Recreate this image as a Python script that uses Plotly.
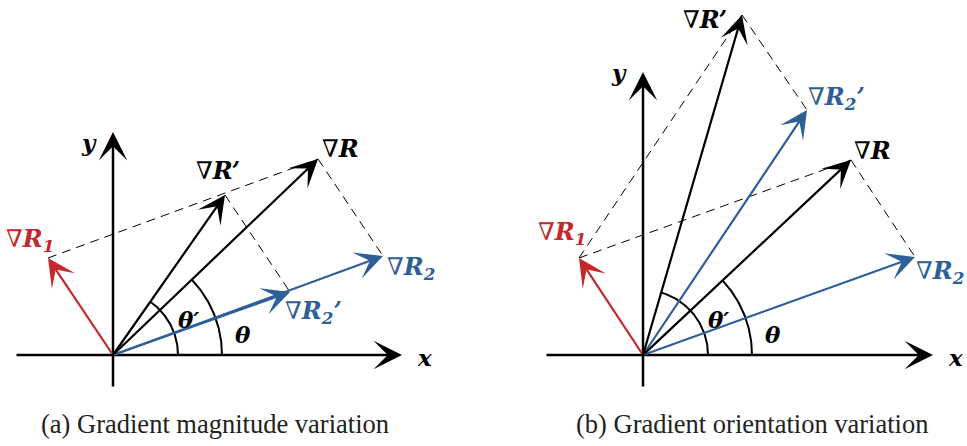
import numpy as np
import plotly.graph_objects as go

# ---------------- data (vector components, 1 unit = 100 px) ----------------
vec_names = ["R1", "R2", "R2p", "R", "Rp"]
vec_a_x = [-0.65, 2.70, 1.77, 2.05, 1.12]
vec_a_y = [0.97, 0.99, 0.63, 1.96, 1.60]
vec_b_x = [-0.64, 2.72, 1.64, 2.08, 0.99]
vec_b_y = [0.97, 0.98, 2.45, 1.95, 3.40]
NABLA = '<span style="font-family:DejaVu Serif;font-weight:normal">∇</span>'
vec_labels = [NABLA + "<b><i>R<sub>1</sub></i></b>", NABLA + "<b><i>R<sub>2</sub></i></b>",
              NABLA + "<b><i>R<sub>2</sub>’</i></b>", NABLA + "<b><i>R</i></b>", NABLA + "<b><i>R’</i></b>"]
captions = ["(a) Gradient magnitude variation", "(b) Gradient orientation variation"]

# dashed construction lines (pairs of vector tips)
dashed_a = [("R1", "R"), ("R", "R2"), ("Rp", "R2p")]
dashed_b = [("R1", "R"), ("R1", "Rp"), ("Rp", "R2p"), ("R", "R2")]

# axis extents
xaxis_ext = {"a": (-0.98, 2.89), "b": (-0.98, 2.90)}
yaxis_ext = {"a": (-0.33, 2.23), "b": (-0.33, 2.83)}

RED = "#c4282c"
BLUE = "#2e5f96"
BLACK = "#000000"
colors = {"R1": RED, "R2": BLUE, "R2p": BLUE, "R": BLACK, "Rp": BLACK}
# label offsets (px)
label_shift = {
    "a": {"R1": (-18, 18), "R2": (28, -12), "R2p": (23, -20), "R": (22, 11), "Rp": (-7, 25)},
    "b": {"R1": (-17, 25), "R2": (25, -15), "R2p": (29, 12), "R": (21, 10), "Rp": (-37, -4)},
}

SERIF = "Liberation Serif"
LSERIF = "DejaVu Serif"
fig = go.Figure()
annotations = []
LABEL_FONT = dict(family=LSERIF, size=23, color=BLACK)

for p, vx, vy, dashed, xref, yref in [
    ("a", vec_a_x, vec_a_y, dashed_a, "x", "y"),
    ("b", vec_b_x, vec_b_y, dashed_b, "x2", "y2"),
]:
    V = {n: (vx[i], vy[i]) for i, n in enumerate(vec_names)}
    # dashed lines
    for s, e in dashed:
        fig.add_trace(go.Scatter(x=[V[s][0], V[e][0]], y=[V[s][1], V[e][1]], mode="lines",
                                 line=dict(color=BLACK, width=1, dash="9px,6px"),
                                 xaxis=xref, yaxis=yref, showlegend=False, hoverinfo="skip"))
    # arcs
    for name, r in [("Rp", 0.65), ("R", 1.09)]:
        ang = np.arctan2(V[name][1], V[name][0])
        t = np.linspace(0, ang, 60)
        fig.add_trace(go.Scatter(x=r * np.cos(t), y=r * np.sin(t), mode="lines",
                                 line=dict(color=BLACK, width=2),
                                 xaxis=xref, yaxis=yref, showlegend=False, hoverinfo="skip"))
    # axes
    x0, x1 = xaxis_ext[p]
    y0, y1 = yaxis_ext[p]
    for (ax_, ay_, tx, ty) in [(x0, 0, x1, 0), (0, y0, 0, y1)]:
        annotations.append(dict(x=tx, y=ty, ax=ax_, ay=ay_, xref=xref, yref=yref,
                                axref=xref, ayref=yref, text="", showarrow=True,
                                arrowhead=3, arrowsize=1.9, arrowwidth=2.5, arrowcolor=BLACK,
                                standoff=0, startstandoff=0))
    # vectors
    for n in vec_names:
        annotations.append(dict(x=V[n][0], y=V[n][1], ax=0, ay=0, xref=xref, yref=yref,
                                axref=xref, ayref=yref, text="", showarrow=True,
                                arrowhead=3, arrowsize=2.1, arrowwidth=2.2, arrowcolor=colors[n],
                                standoff=0))
        dx, dy = label_shift[p][n]
        annotations.append(dict(x=V[n][0], y=V[n][1], xref=xref, yref=yref,
                                text=vec_labels[vec_names.index(n)],
                                showarrow=False, xshift=dx, yshift=dy,
                                font=dict(family=LSERIF, size=24, color=colors[n])))
    # axis labels
    annotations.append(dict(x=x1, y=0, xref=xref, yref=yref, text="<b><i>x</i></b>", showarrow=False,
                            xshift=22, yshift=-2, font=LABEL_FONT))
    annotations.append(dict(x=0, y=y1, xref=xref, yref=yref, text="<b><i>y</i></b>", showarrow=False,
                            xshift=-24, yshift=-10 if p == "a" else 0, font=LABEL_FONT))
    # theta labels
    annotations.append(dict(x=0.75, y=0.36, xref=xref, yref=yref, text="<b><i>θ′</i></b>", showarrow=False,
                            font=LABEL_FONT))
    annotations.append(dict(x=1.30, y=0.21, xref=xref, yref=yref, text="<b><i>θ</i></b>", showarrow=False,
                            font=LABEL_FONT))

for cx, cap in zip([215 / 967, 752 / 967], captions):
    annotations.append(dict(x=cx, y=1 - 424 / 446, xref="paper", yref="paper", text=cap,
                            xanchor="center", yanchor="middle", showarrow=False,
                            font=dict(family=SERIF, size=26.5, color="#222")))

ax_common = dict(visible=False, showgrid=False, zeroline=False, fixedrange=True)
fig.update_layout(
    width=967, height=446, margin=dict(l=0, r=0, t=0, b=0),
    paper_bgcolor="white", plot_bgcolor="white",
    xaxis=dict(domain=[0, 0.5], range=[-1.13, 3.705], **ax_common),
    xaxis2=dict(domain=[0.5, 1], range=[-1.595, 3.24], **ax_common),
    yaxis=dict(domain=[0, 1], range=[-0.91, 3.55], anchor="x", **ax_common),
    yaxis2=dict(domain=[0, 1], range=[-0.91, 3.55], anchor="x2", **ax_common),
    annotations=annotations,
    showlegend=False,
)
fig.write_html("out.html")
